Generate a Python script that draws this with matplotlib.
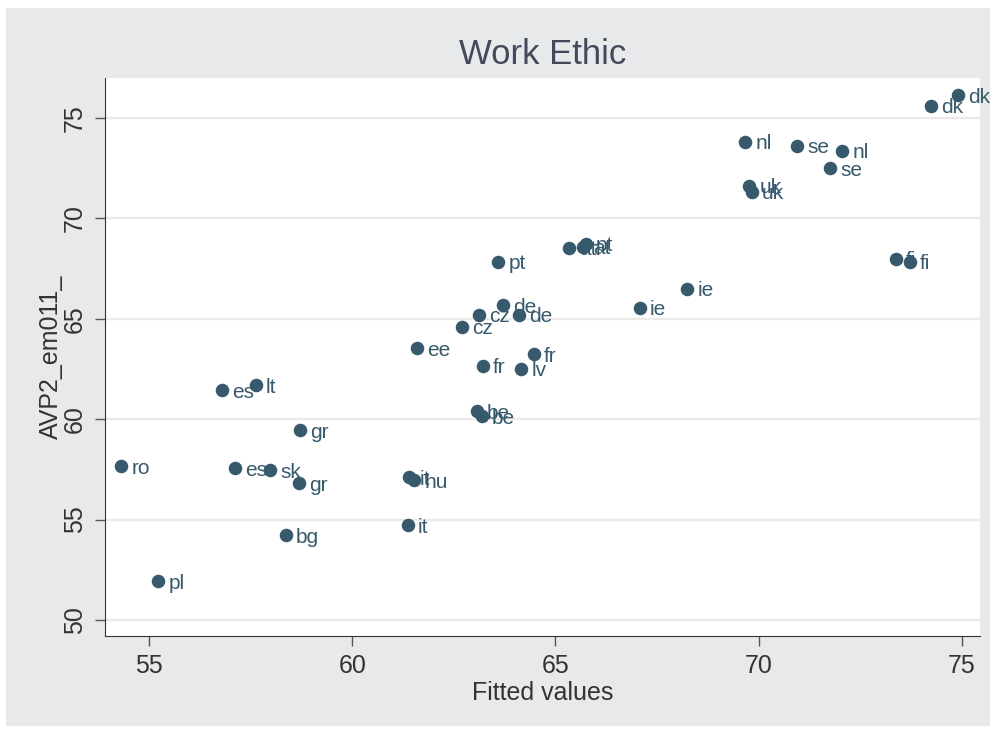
import matplotlib.pyplot as plt
from matplotlib.patches import Rectangle

# country codes, fitted values (x) and AVP2_em011_ (y)
countries = ['dk', 'dk', 'nl', 'se', 'nl', 'se', 'uk', 'uk', 'fi', 'fi',
             'ie', 'ie', 'at', 'at', 'pt', 'pt', 'de', 'cz', 'de', 'cz',
             'ee', 'fr', 'fr', 'lv', 'be', 'be', 'es', 'lt', 'gr', 'ro',
             'es', 'sk', 'gr', 'it', 'hu', 'it', 'bg', 'pl']
fitted = [74.90, 74.24, 69.66, 70.94, 72.05, 71.75, 69.76, 69.83, 73.37, 73.72,
          68.23, 67.07, 65.33, 65.67, 65.74, 63.58, 63.70, 63.11, 64.09, 62.69,
          61.58, 64.46, 63.21, 64.15, 63.06, 63.18, 56.78, 57.62, 58.70, 54.30,
          57.10, 57.97, 58.68, 61.39, 61.51, 61.36, 58.36, 55.21]
avp2 = [76.14, 75.60, 73.81, 73.61, 73.36, 72.51, 71.62, 71.32, 67.99, 67.84,
        66.50, 65.56, 68.54, 68.59, 68.74, 67.84, 65.66, 65.21, 65.21, 64.61,
        63.52, 63.22, 62.67, 62.52, 60.39, 60.14, 61.44, 61.68, 59.44, 57.66,
        57.55, 57.45, 56.81, 57.11, 56.96, 54.72, 54.22, 51.94]

x_ticks = [55, 60, 65, 70, 75]
y_ticks = [50, 55, 60, 65, 70, 75]

plt.rcParams['font.family'] = ['Liberation Sans', 'DejaVu Sans']
dot = '#37596c'
txt = '#333333'

fig = plt.figure(figsize=(9.97, 7.31), dpi=100)
fig.patch.set_facecolor('white')
# grey outer region like stata s2color
fig.patches.append(Rectangle((6/997, 1-726/731), 984/997, 718/731,
                             transform=fig.transFigure, facecolor='#e8e9eb',
                             edgecolor='none', zorder=-10))

ax = fig.add_axes([105/997, 1-636/731, 875/997, 558/731])
ax.set_facecolor('white')

ax.scatter(fitted, avp2, s=95, color=dot, zorder=3, linewidths=0)
for c, xv, yv in zip(countries, fitted, avp2):
    ax.annotate(c, (xv, yv), xytext=(7.5, -1.5), textcoords='offset points',
                va='center', ha='left', fontsize=15, color=dot, zorder=4)

ax.set_xlim(53.91, 75.45)
ax.set_ylim(49.2, 76.99)
ax.set_xticks(x_ticks)
ax.set_yticks(y_ticks)
ax.set_yticklabels([str(v) for v in y_ticks], rotation=90, va='center')

ax.grid(axis='y', color='#eaeaea', linewidth=1.6, zorder=0)
ax.set_axisbelow(True)

ax.spines['right'].set_color('none')
ax.spines['top'].set_color('none')
ax.spines['left'].set_color('#333333')
ax.spines['bottom'].set_color('#333333')
ax.tick_params(direction='out', length=7, width=1, color='#555555',
               labelsize=18, labelcolor=txt, pad=6)

ax.set_xlabel('Fitted values', fontsize=18, color=txt, labelpad=2)
ax.set_ylabel('AVP2_em011_', fontsize=18, color=txt, labelpad=0)
ax.set_title('Work Ethic', fontsize=25, color='#434a5a', pad=10)

fig.savefig('out.png', dpi=100)
